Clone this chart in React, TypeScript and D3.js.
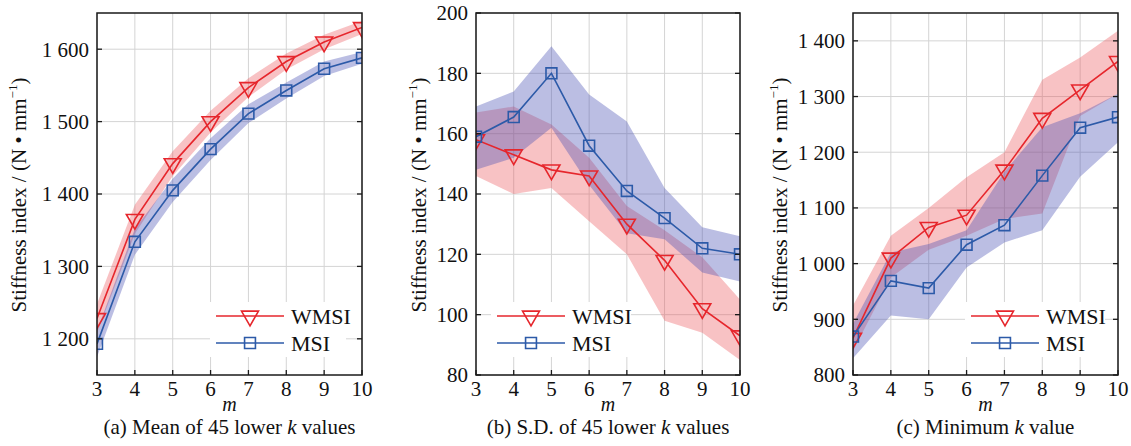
import { area, format, formatLocale, line, range, scaleLinear, symbol, symbolSquare, symbolTriangle } from "d3";

const WIDTH = 1131;
const HEIGHT = 446;
const TOP = 13;
const BOTTOM = 375;
const FONT = "Liberation Serif, DejaVu Serif, serif";

const RED = "#e6262c";
const BLUE = "#2c5aa8";
const RED_BAND = "rgb(235,80,85)";
const BLUE_BAND = "rgb(70,80,180)";

const M_VALUES = [3, 4, 5, 6, 7, 8, 9, 10];

// (a) mean of 45 lower k values
const A_WMSI = [1228, 1365, 1442, 1500, 1547, 1583, 1610, 1630];
const A_WMSI_HI = [1248, 1385, 1459, 1515, 1560, 1594, 1620, 1639];
const A_WMSI_LO = [1208, 1345, 1425, 1485, 1534, 1572, 1600, 1621];
const A_MSI = [1193, 1334, 1405, 1462, 1511, 1543, 1573, 1588];
const A_MSI_HI = [1211, 1352, 1421, 1477, 1524, 1554, 1583, 1596];
const A_MSI_LO = [1175, 1316, 1389, 1447, 1498, 1532, 1563, 1580];

// (b) S.D. of 45 lower k values
const B_WMSI = [158, 153, 148, 146, 130, 118, 102, 93];
const B_WMSI_HI = [167, 169, 163, 152, 136, 128, 119, 105];
const B_WMSI_LO = [146, 140, 142, 131, 120, 98, 94, 85];
const B_MSI = [159, 165.5, 180, 156, 141, 132, 122, 120];
const B_MSI_HI = [169, 174, 189, 173, 164, 142, 129, 126];
const B_MSI_LO = [148, 152, 162, 143, 127, 125, 114, 111];

// (c) minimum k value
const C_WMSI = [866, 1010, 1065, 1087, 1168, 1261, 1312, 1363];
const C_WMSI_HI = [925, 1050, 1100, 1155, 1200, 1330, 1370, 1418];
const C_WMSI_LO = [843, 975, 1025, 1050, 1080, 1090, 1265, 1305];
const C_MSI = [869, 969, 956, 1034, 1069, 1158, 1244, 1263];
const C_MSI_HI = [892, 1020, 1035, 1060, 1165, 1245, 1270, 1305];
const C_MSI_LO = [830, 907, 900, 993, 1038, 1060, 1156, 1218];

const A_TICKS = [1200, 1300, 1400, 1500, 1600];
const B_TICKS = [80, 100, 120, 140, 160, 180, 200];
const C_TICKS = [800, 900, 1000, 1100, 1200, 1300, 1400];

const spaced = formatLocale({ decimal: ".", thousands: " ", grouping: [3], currency: ["", ""] }).format(",d");
const plain = format("d");

const triangleDown = symbol(symbolTriangle, 125)();
const square = symbol(symbolSquare, 118)();

type PanelProps = {
  id: string;
  x0: number;
  x1: number;
  domain: [number, number];
  ticks: number[];
  wmsi: number[];
  wmsiHi: number[];
  wmsiLo: number[];
  msi: number[];
  msiHi: number[];
  msiLo: number[];
  caption: [string, string];
  titleX: number;
  legendX: number;
  legendW: number;
};

function Panel(p: PanelProps) {
  const x = scaleLinear().domain([3, 10]).range([p.x0, p.x1]);
  const y = scaleLinear().domain(p.domain).range([BOTTOM, TOP]);
  const idx = range(M_VALUES.length);
  const band = (hi: number[], lo: number[]) =>
    area<number>()
      .x((i) => x(M_VALUES[i]))
      .y0((i) => y(lo[i]))
      .y1((i) => y(hi[i]))(idx) ?? "";
  const path = (v: number[]) =>
    line<number>()
      .x((i) => x(M_VALUES[i]))
      .y((i) => y(v[i]))(idx) ?? "";
  const cx = (p.x0 + p.x1) / 2;
  const ly1 = 316;
  const ly2 = 343;

  return (
    <g fontFamily={FONT} fill="#111">
      <defs>
        <clipPath id={`clip-${p.id}`}>
          <rect x={p.x0} y={TOP} width={p.x1 - p.x0} height={BOTTOM - TOP} />
        </clipPath>
      </defs>
      {M_VALUES.map((m) => (
        <line key={`gx${m}`} x1={x(m)} x2={x(m)} y1={TOP} y2={BOTTOM} stroke="#d4d4d4" strokeWidth={1} />
      ))}
      {p.ticks.map((t) => (
        <line key={`gy${t}`} x1={p.x0} x2={p.x1} y1={y(t)} y2={y(t)} stroke="#d4d4d4" strokeWidth={1} />
      ))}
      <rect x={p.legendX - 6} y={302} width={p.legendW} height={55} fill="#fff" />
      <g clipPath={`url(#clip-${p.id})`}>
        <path d={band(p.wmsiHi, p.wmsiLo)} fill={RED_BAND} fillOpacity={0.35} />
        <path d={band(p.msiHi, p.msiLo)} fill={BLUE_BAND} fillOpacity={0.37} />
        <path d={path(p.wmsi)} fill="none" stroke={RED} strokeWidth={1.6} />
        {idx.map((i) => (
          <path key={`t${i}`} d={triangleDown} transform={`translate(${x(M_VALUES[i])},${y(p.wmsi[i])}) rotate(180)`} fill="none" stroke={RED} strokeWidth={1.6} />
        ))}
        <path d={path(p.msi)} fill="none" stroke={BLUE} strokeWidth={1.6} />
        {idx.map((i) => (
          <path key={`s${i}`} d={square} transform={`translate(${x(M_VALUES[i])},${y(p.msi[i])})`} fill="none" stroke={BLUE} strokeWidth={1.6} />
        ))}
      </g>
      {/* legend */}
      <line x1={p.legendX} x2={p.legendX + 68} y1={ly1} y2={ly1} stroke={RED} strokeWidth={1.6} />
      <path d={triangleDown} transform={`translate(${p.legendX + 34},${ly1}) rotate(180)`} fill="none" stroke={RED} strokeWidth={1.6} />
      <text x={p.legendX + 75} y={ly1} dy="0.35em" fontSize={22}>WMSI</text>
      <line x1={p.legendX} x2={p.legendX + 68} y1={ly2} y2={ly2} stroke={BLUE} strokeWidth={1.6} />
      <path d={square} transform={`translate(${p.legendX + 34},${ly2})`} fill="none" stroke={BLUE} strokeWidth={1.6} />
      <text x={p.legendX + 75} y={ly2} dy="0.35em" fontSize={22}>MSI</text>
      {/* frame and ticks */}
      <rect x={p.x0} y={TOP} width={p.x1 - p.x0} height={BOTTOM - TOP} fill="none" stroke="#1a1a1a" strokeWidth={1.5} />
      {M_VALUES.map((m) => (
        <g key={`xt${m}`}>
          <line x1={x(m)} x2={x(m)} y1={BOTTOM} y2={BOTTOM - 5} stroke="#1a1a1a" strokeWidth={1.3} />
          <text x={x(m)} y={396} textAnchor="middle" fontSize={21}>{plain(m)}</text>
        </g>
      ))}
      {p.ticks.map((t) => (
        <g key={`yt${t}`}>
          <line x1={p.x0} x2={p.x0 + 5} y1={y(t)} y2={y(t)} stroke="#1a1a1a" strokeWidth={1.3} />
          <line x1={p.x1} x2={p.x1 - 5} y1={y(t)} y2={y(t)} stroke="#1a1a1a" strokeWidth={1.3} />
          <text x={p.x0 - 8} y={y(t)} dy="0.35em" textAnchor="end" fontSize={21}>{spaced(t)}</text>
        </g>
      ))}
      <text x={cx} y={411} textAnchor="middle" fontSize={20} fontStyle="italic">m</text>
      <text x={cx} y={434} textAnchor="middle" fontSize={21}>
        {p.caption[0]}
        <tspan fontStyle="italic">k</tspan>
        {p.caption[1]}
      </text>
      <text transform={`translate(${p.titleX},195) rotate(-90)`} textAnchor="middle" fontSize={21}>
        Stiffness index / (N • mm
        <tspan fontSize={13} dy={-9}>−1</tspan>
        <tspan dy={9}>)</tspan>
      </text>
    </g>
  );
}

export default function App() {
  return (
    <svg width={WIDTH} height={HEIGHT} viewBox={`0 0 ${WIDTH} ${HEIGHT}`} style={{ position: "absolute", left: 0, top: 0, background: "#fff" }}>
      <rect width={WIDTH} height={HEIGHT} fill="#fff" />
      <Panel
        id="a" x0={97} x1={362} domain={[1150, 1650]} ticks={A_TICKS}
        wmsi={A_WMSI} wmsiHi={A_WMSI_HI} wmsiLo={A_WMSI_LO}
        msi={A_MSI} msiHi={A_MSI_HI} msiLo={A_MSI_LO}
        caption={["(a) Mean of 45 lower ", " values"]}
        titleX={26} legendX={216} legendW={136}
      />
      <Panel
        id="b" x0={476} x1={740} domain={[80, 200]} ticks={B_TICKS}
        wmsi={B_WMSI} wmsiHi={B_WMSI_HI} wmsiLo={B_WMSI_LO}
        msi={B_MSI} msiHi={B_MSI_HI} msiLo={B_MSI_LO}
        caption={["(b) S.D. of 45 lower ", " values"]}
        titleX={426} legendX={497} legendW={140}
      />
      <Panel
        id="c" x0={853} x1={1118} domain={[800, 1450]} ticks={C_TICKS}
        wmsi={C_WMSI} wmsiHi={C_WMSI_HI} wmsiLo={C_WMSI_LO}
        msi={C_MSI} msiHi={C_MSI_HI} msiLo={C_MSI_LO}
        caption={["(c) Minimum ", " value"]}
        titleX={787} legendX={971} legendW={140}
      />
    </svg>
  );
}
